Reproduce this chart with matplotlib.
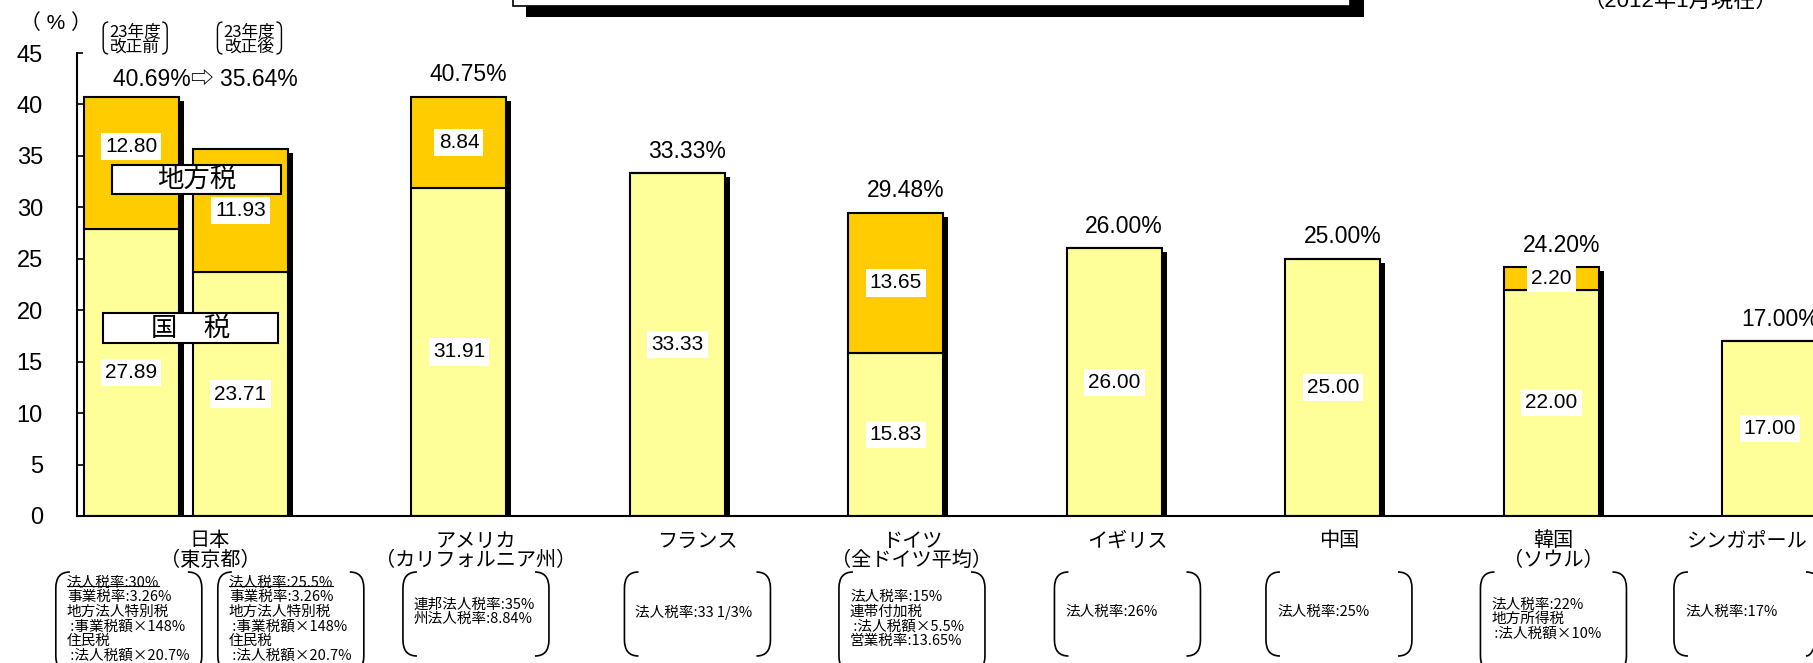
import numpy as np
import matplotlib.pyplot as plt
import matplotlib.transforms as mtransforms
from matplotlib.patches import Rectangle, PathPatch
from matplotlib.path import Path
from matplotlib.lines import Line2D

plt.rcParams['font.family'] = ['Liberation Sans', 'Noto Sans CJK JP', 'DejaVu Sans']
jp_family = ['Noto Sans CJK JP', 'DejaVu Sans']

# data
positions = [0.5, 1.0, 2, 3, 4, 5, 6, 7, 8]
national = [27.89, 23.71, 31.91, 33.33, 15.83, 26.00, 25.00, 22.00, 17.00]
local = [12.80, 11.93, 8.84, 0, 13.65, 0, 0, 2.20, 0]
total_labels = ['', '', '40.75%', '33.33%', '29.48%', '26.00%', '25.00%', '24.20%', '17.00%']
japan_total = '40.69%⇨ 35.64%'
japan_headers = ['23年度\n改正前', '23年度\n改正後']
countries = [['日本', '（東京都）'], ['アメリカ', '（カリフォルニア州）'], ['フランス'],
             ['ドイツ', '（全ドイツ平均）'], ['イギリス'], ['中国'], ['韓国', '（ソウル）'],
             ['シンガポール']]
notes = [
    ['法人税率:30%', '事業税率:3.26%', '地方法人特別税', ' :事業税額×148%', '住民税', ' :法人税額×20.7%'],
    ['法人税率:25.5%', '事業税率:3.26%', '地方法人特別税', ' :事業税額×148%', '住民税', ' :法人税額×20.7%'],
    ['連邦法人税率:35%', '州法人税率:8.84%'],
    ['法人税率:33 1/3%'],
    ['法人税率:15%', '連帯付加税', ' :法人税額×5.5%', '営業税率:13.65%'],
    ['法人税率:26%'],
    ['法人税率:25%'],
    ['法人税率:22%', '地方所得税', ' :法人税額×10%'],
    ['法人税率:17%'],
]

light = '#FFFF99'
dark = '#FFCC00'

W, H = 1813, 663
fig = plt.figure(figsize=(W / 100, H / 100), dpi=100)
ax = fig.add_axes([77 / W, 147 / H, (W - 77) / W, 463 / H])
ax.set_xlim(0.252, 8.197)
ax.set_ylim(0, 45)


def fx(px):
    return px / W


def fy(py):
    # py measured from the top of the image
    return 1 - py / H


def px_of(x):
    return ax.transData.transform((x, 0))[0]


def brackets(x0, x1, y0, y1, rx, ry, lw=1.2):
    for xs, xe in ((x0, x0 + rx), (x1, x1 - rx)):
        verts = [(xe, y0), (xs, y0), (xs, y0 + ry), (xs, y1 - ry), (xs, y1), (xe, y1)]
        codes = [Path.MOVETO, Path.CURVE3, Path.CURVE3, Path.LINETO, Path.CURVE3, Path.CURVE3]
        verts = [(fx(a), fy(b)) for a, b in verts]
        fig.add_artist(PathPatch(Path(verts, codes), fill=False, lw=lw,
                                 transform=fig.transFigure, clip_on=False))


width = 0.435
totals = [n + l for n, l in zip(national, local)]

# drop shadow behind each bar
shadow = mtransforms.offset_copy(ax.transData, fig=fig, x=5, y=-4, units='dots')
ax.bar(positions, totals, width, color='black', transform=shadow, zorder=1)
ax.bar(positions, national, width, color=light, edgecolor='black', lw=1.5, zorder=2)
ax.bar(positions, local, width, bottom=national, color=dark, edgecolor='black', lw=1.5, zorder=2)

box = dict(facecolor='white', edgecolor='none', pad=3)
for i, (x, n, l) in enumerate(zip(positions, national, local)):
    ax.text(x, n / 2, f'{n:.2f}', ha='center', va='center', fontsize=15, bbox=box, zorder=4)
    if l > 0:
        ly = n + l / 2 + (1.6 if i == 0 else 0)
        ax.text(x, ly, f'{l:.2f}', ha='center', va='center', fontsize=15, bbox=box, zorder=4)
    if total_labels[i]:
        ax.annotate(total_labels[i], (x, totals[i]), xytext=(7, 15.8), textcoords='offset points',
                    ha='center', va='center', fontsize=16.5, annotation_clip=False)

ax.annotate(japan_total, ((positions[0] + positions[1]) / 2, totals[0]), xytext=(14, 12.5),
            textcoords='offset points', ha='center', va='center', fontsize=16.5)

# 地方税 / 国税 boxes
for (x0, y0, w, h), s in (((0.413, 31.3, 0.773, 2.8), '地方税'), ((0.371, 16.8, 0.801, 2.9), '国　税')):
    ax.add_patch(Rectangle((x0, y0), w, h, facecolor='white', edgecolor='black', lw=1.5, zorder=5))
    ax.text(x0 + w / 2, y0 + h / 2, s, ha='center', va='center', fontsize=19, zorder=6)

ax.set_yticks(np.arange(0, 46, 5))
ax.set_xticks([])
ax.tick_params(axis='y', direction='in', length=4.3, width=1.2, labelsize=17, pad=24.5)
for side in ('top', 'right'):
    ax.spines[side].set_visible(False)
ax.spines['left'].set_linewidth(1.5)
ax.spines['bottom'].set_linewidth(1.5)

# headers for Japan
for x, s, dx in zip(positions[:2], japan_headers, (4, 9)):
    c = px_of(x) + dx
    brackets(c - 32, c + 32, 22, 54, 5, 7, lw=1.0)
    for k, line in enumerate(s.split('\n')):
        fig.text(fx(c), fy(32 + 15 * k), line, ha='center', va='center', fontsize=12,
                 family=jp_family)

fig.text(fx(56), fy(23), '（ % ）', ha='center', va='center', fontsize=15)

# title box (cut off at the top)
fig.add_artist(Rectangle((fx(526), fy(17)), (1364 - 526) / W, 40 / H, facecolor='black',
                         edgecolor='none', transform=fig.transFigure))
fig.add_artist(Rectangle((fx(513), fy(6)), (1350 - 513) / W, 40 / H, facecolor='white',
                         edgecolor='black', lw=1.2, transform=fig.transFigure))
fig.text(fx(1680), fy(1), '（2012年1月現在）', ha='center', va='center', fontsize=16)

# country names
label_dx = [24, 17, 20, 16, 13, 6, 2, -23]
cat_x = [(positions[0] + positions[1]) / 2] + positions[2:]
label_c = [px_of(x) + d for x, d in zip(cat_x, label_dx)]
for c, lines in zip(label_c, countries):
    for k, line in enumerate(lines):
        fig.text(fx(c), fy(541 + 19 * k), line, ha='center', va='center', fontsize=14.5)

# notes in brackets
note_c = [label_c[0] - 81, label_c[0] + 81] + label_c[1:]
renderer = fig.canvas.get_renderer()
for i, (c, lines) in enumerate(zip(note_c, notes)):
    n = len(lines)
    x0, x1 = c - 73, c + 73
    bottom = 656 if n <= 2 else 672
    brackets(x0, x1, 572, bottom, 14, 16)
    mid = 612 if n <= 2 else 619
    for k, line in enumerate(lines):
        t = fig.text(fx(x0 + 11), fy(mid + (k - (n - 1) / 2) * 14.5), line,
                     ha='left', va='center', fontsize=10.5, family=jp_family)
        if i < 2 and k == 0:
            bb = t.get_window_extent(renderer)
            fig.add_artist(Line2D([bb.x0 / W, bb.x1 / W], [(bb.y0 + 3.5) / H] * 2, lw=0.8,
                                  color='black', transform=fig.transFigure))

fig.savefig('out.png', dpi=100, facecolor='white')
